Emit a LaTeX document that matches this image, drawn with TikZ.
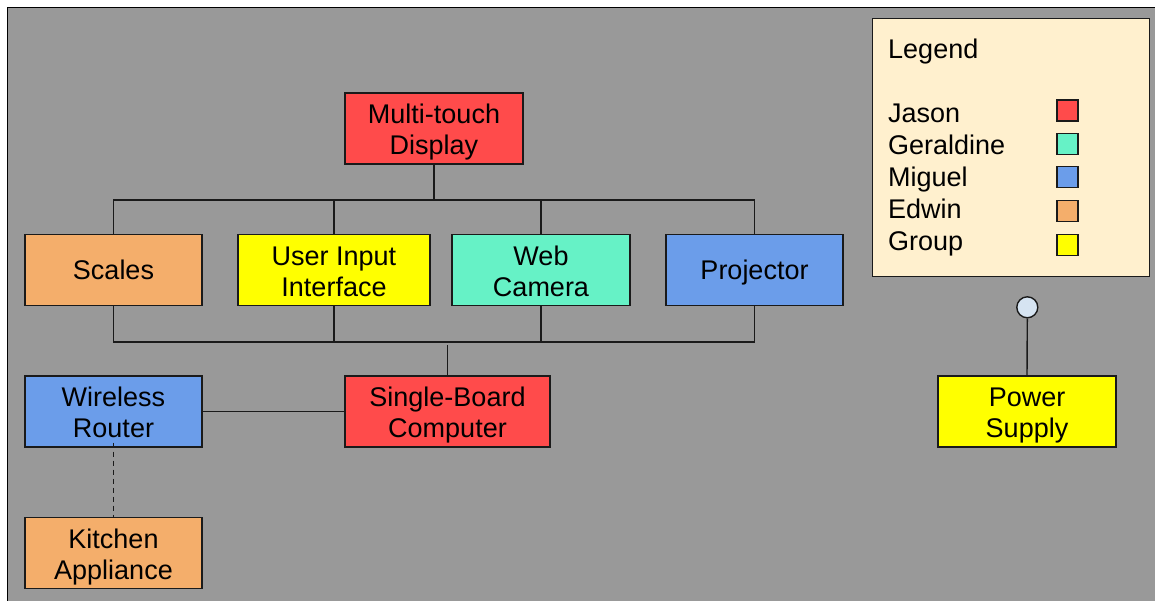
\documentclass[tikz,border=0pt]{standalone}
\usepackage{fontspec}
\setmainfont{Liberation Sans}
\definecolor{bggray}{HTML}{999999}
\definecolor{cred}{HTML}{FF4B4B}
\definecolor{cyellow}{HTML}{FFFF00}
\definecolor{cmint}{HTML}{66F2C6}
\definecolor{cblue}{HTML}{6B9DEA}
\definecolor{corange}{HTML}{F4AE6B}
\definecolor{legendbg}{HTML}{FFF0CE}
\definecolor{circfill}{HTML}{D6E4F2}
\definecolor{edge}{HTML}{1A1A1A}
\newcommand{\onel}[1]{\raisebox{-9.7pt}[0pt][0pt]{#1}}
\newcommand{\twol}[2]{\raisebox{-26.2pt}[0pt][0pt]{\begin{tabular}[b]{@{}c@{}}#1\\#2\end{tabular}}}
\begin{document}
\begin{tikzpicture}[x=1pt,y=-1pt,
  box/.style={draw=edge, line width=1.4pt, minimum width=177pt, minimum height=71pt, inner sep=0pt,
    font=\fontsize{27}{31}\selectfont},
  wire/.style={draw=edge, line width=1.4pt},
  leg/.style={anchor=base west, inner sep=0pt, font=\fontsize{27}{32}\selectfont},
  sq/.style={draw=edge, line width=1.2pt, minimum size=21pt, inner sep=0pt}]
\useasboundingbox (0,0) rectangle (1155,601);
\begin{scope}
\clip (0,0) rectangle (1155,601);
\draw[fill=bggray, draw=black, line width=1.6pt] (7.5,7.5) rectangle (1170,620);
\end{scope}

% nodes
\node[box, fill=cred, minimum width=178pt] (mtd) at (434,128.5) {\twol{Multi-touch}{Display}};
\node[box, fill=corange] (scales) at (113.5,270) {\onel{Scales}};
\node[box, fill=cyellow, minimum width=192pt] (uii) at (334,270) {\twol{User Input}{Interface}};
\node[box, fill=cmint, minimum width=178pt] (cam) at (541,270) {\twol{Web}{Camera}};
\node[box, fill=cblue] (proj) at (754.5,270) {\onel{Projector}};
\node[box, fill=cblue] (wr) at (113.5,411.5) {\twol{Wireless}{Router}};
\node[box, fill=cred, minimum width=205pt] (sbc) at (447.5,411.5) {\twol{Single-Board}{Computer}};
\node[box, fill=corange] (ka) at (113.5,553) {\twol{Kitchen}{Appliance}};
\node[box, fill=cyellow, minimum width=178pt] (ps) at (1027,411.5) {\twol{Power}{Supply}};
\node[draw=edge, line width=1.4pt, fill=circfill, circle, minimum size=21pt, inner sep=0pt] (plug) at (1027.3,307.3) {};

% top bus
\coordinate (tbus) at (434,200);
\draw[wire] (mtd.south) -- (tbus);
\draw[wire] (scales.north) |- (tbus);
\draw[wire] (proj.north) |- (tbus);
\draw[wire] (uii.north) -- (uii.north |- tbus);
\draw[wire] (cam.north) -- (cam.north |- tbus);

% bottom bus
\coordinate (bbus) at (447.5,342);
\draw[wire] (scales.south) |- (bbus);
\draw[wire] (proj.south) |- (bbus);
\draw[wire] (uii.south) -- (uii.south |- bbus);
\draw[wire] (cam.south) -- (cam.south |- bbus);
\draw[wire] (sbc.north) -- ([yshift=-3pt]bbus);

% other links
\draw[wire] (wr.east) -- (sbc.west);
\draw[wire, dashed, dash pattern=on 5pt off 4pt] ([yshift=5pt]wr.south) -- (ka.north);
\draw[wire] (plug.south) -- (ps.north);

% legend
\node[draw=edge, line width=1.4pt, fill=legendbg, minimum width=277pt, minimum height=258.5pt, inner sep=0pt] (legend) at (1010.8,147.5) {};
\node[leg] (lt) at (888,58.5) {Legend};
\node[leg] (l1) at (888,123) {Jason};
\node[leg] (l2) at (888,155) {Geraldine};
\node[leg] (l3) at (888,187) {Miguel};
\node[leg] (l4) at (888,219) {Edwin};
\node[leg] (l5) at (888,251) {Group};
\node[sq, fill=cred] (s1) at (1067.5,110.5) {};
\node[sq, fill=cmint] (s2) at (1067.5,143.7) {};
\node[sq, fill=cblue] (s3) at (1067.5,177.3) {};
\node[sq, fill=corange] (s4) at (1067.5,211) {};
\node[sq, fill=cyellow] (s5) at (1067.5,245) {};
\end{tikzpicture}
\end{document}
